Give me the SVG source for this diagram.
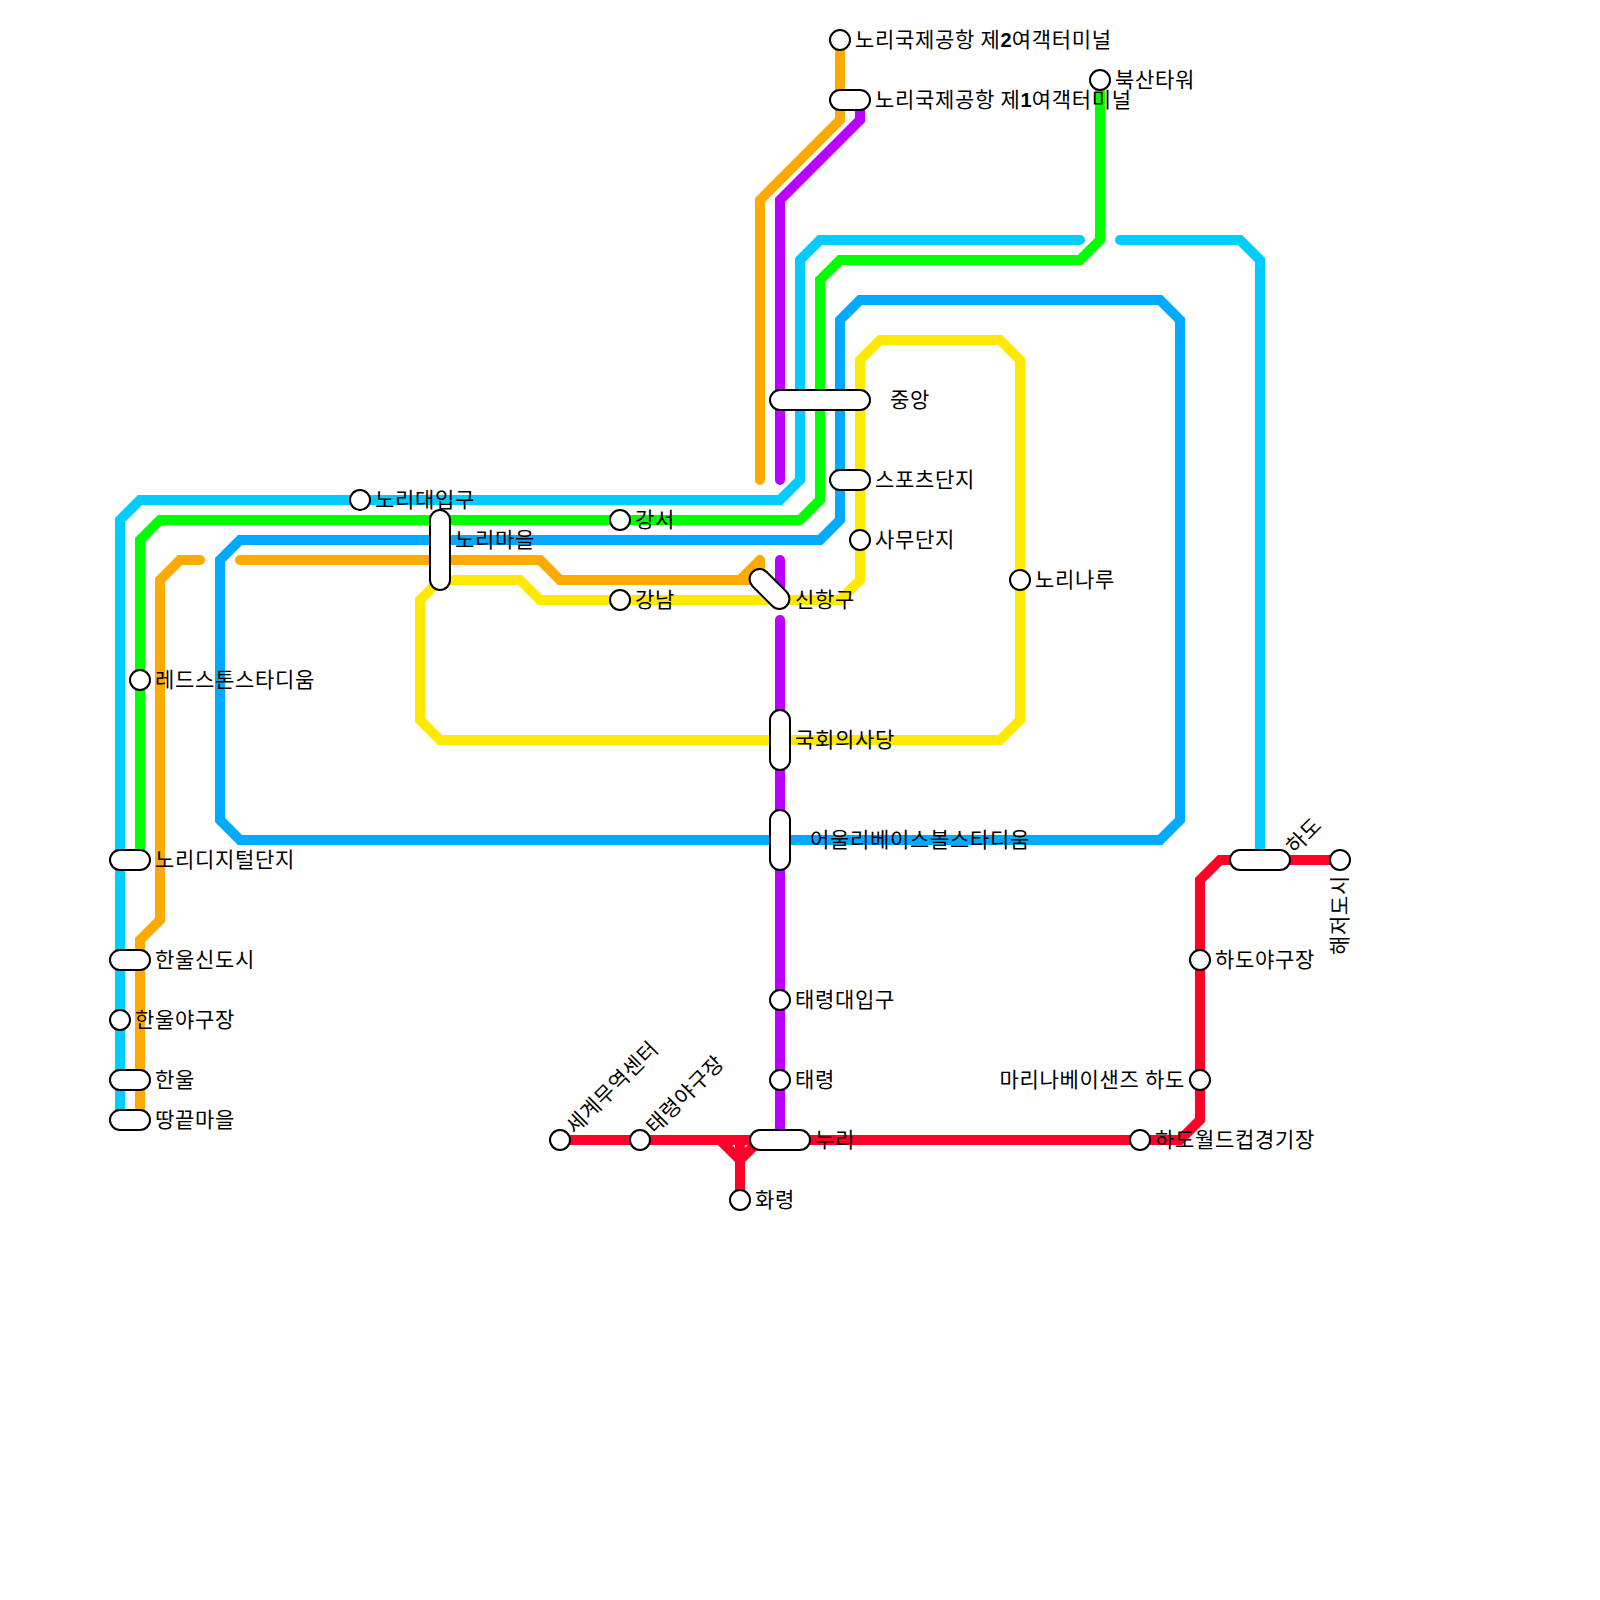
<svg xmlns="http://www.w3.org/2000/svg" width="1600" height="1600" viewBox="0 0 1600 1600">
<style>
.l{fill:none;stroke-width:10;stroke-linecap:round;stroke-linejoin:miter}
.s{fill:#fff;stroke:#000;stroke-width:2}
text{font-family:"Liberation Sans","Noto Sans CJK KR",sans-serif;font-size:21px;letter-spacing:.68px;fill:#000;dominant-baseline:central}
.n{letter-spacing:0;font-size:20px}
.d{letter-spacing:0;font-size:20px;font-weight:bold}
</style>
<rect width="1600" height="1600" fill="#fff"/>
<g id="connectors">
<path class="l" style="stroke:#ffe900" d="M540 600L520 580H440L420 600V720L440 740H1000L1020 720V360L1000 340H880L860 360V580L840 600Z"/>
<path class="l" style="stroke:#00aaff" d="M860 300H1160L1180 320V820L1160 840H240L220 820V560L240 540H820L840 520V320Z"/>
<path class="l" style="stroke:#00ccff" d="M1080 240H820L800 260V480L780 500H140L120 520V1120"/>
<path class="l" style="stroke:#00ccff" d="M1120 240H1240L1260 260V860"/>
<path class="l" style="stroke:#00ff00" d="M1100 80V240L1080 260H840L820 280V500L800 520H160L140 540V860"/>
<path class="l" style="stroke:#ffaa00" d="M840 40V120L760 200V480"/>
<path class="l" style="stroke:#ffaa00" d="M240 560H540L560 580H760M740 580L760 560M760 560V580"/>
<path class="l" style="stroke:#ffaa00" d="M200 560H180L160 580V920L140 940V1120"/>
<path class="l" style="stroke:#bb00ff" d="M860 100V120L780 200V480"/>
<path class="l" style="stroke:#bb00ff" d="M780 560V590"/>
<path class="l" style="stroke:#bb00ff" d="M780 620V1140"/>
<path class="l" style="stroke:#ff0029" d="M560 1140H1180L1200 1120V880L1220 860H1340"/>
<path class="l" style="stroke:#ff0029;stroke-linecap:butt" d="M720 1140L740 1160L760 1140M740 1140V1200"/>
</g>
<g id="n1"><circle class="s" cx="840" cy="40" r="10"/><text x="855" y="40" dy="-0.5">노리국제공항<tspan class="n"> </tspan>제<tspan class="d">2</tspan>여객터미널</text></g>
<g id="n2"><rect class="s" x="830" y="90" width="40" height="20" rx="10"/><text x="875" y="100" dy="-0.5">노리국제공항<tspan class="n"> </tspan>제<tspan class="d">1</tspan>여객터미널</text></g>
<g id="n3"><circle class="s" cx="1100" cy="80" r="10"/><text x="1115" y="80" dy="-0.5">북산타워</text></g>
<g id="n4"><rect class="s" x="770" y="390" width="100" height="20" rx="10"/><text x="890" y="400" dy="-0.5">중앙</text></g>
<g id="n5"><rect class="s" x="830" y="470" width="40" height="20" rx="10"/><text x="875" y="480" dy="-0.5">스포츠단지</text></g>
<g id="n6"><circle class="s" cx="860" cy="540" r="10"/><text x="875" y="540" dy="-0.5">사무단지</text></g>
<g id="n7"><circle class="s" cx="1020" cy="580" r="10"/><text x="1035" y="580" dy="-0.5">노리나루</text></g>
<g id="n8"><rect class="s" x="745.5" y="579" width="48" height="20" rx="10" transform="rotate(45 769.5 589)"/><text x="795" y="600" dy="-0.5">신항구</text></g>
<g id="n9"><rect class="s" x="770" y="710" width="20" height="60" rx="10"/><text x="795" y="740" dy="-0.5">국회의사당</text></g>
<g id="n10"><rect class="s" x="770" y="810" width="20" height="60" rx="10"/><text x="810" y="840" dy="-0.5">어울리베이스볼스타디움</text></g>
<g id="n11"><circle class="s" cx="780" cy="1000" r="10"/><text x="795" y="1000" dy="-0.5">태령대입구</text></g>
<g id="n12"><circle class="s" cx="780" cy="1080" r="10"/><text x="795" y="1080" dy="-0.5">태령</text></g>
<g id="n13"><rect class="s" x="750" y="1130" width="60" height="20" rx="10"/><text x="815" y="1140" dy="-0.5">누리</text></g>
<g id="n14"><circle class="s" cx="740" cy="1200" r="10"/><text x="755" y="1200" dy="-0.5">화령</text></g>
<g id="n15"><circle class="s" cx="560" cy="1140" r="10"/><text x="570" y="1130" dy="-0.5" transform="rotate(-45 570 1130)">세계무역센터</text></g>
<g id="n16"><circle class="s" cx="640" cy="1140" r="10"/><text x="650" y="1130" dy="-0.5" transform="rotate(-45 650 1130)">태령야구장</text></g>
<g id="n17"><circle class="s" cx="1140" cy="1140" r="10"/><text x="1155" y="1140" dy="-0.5">하도월드컵경기장</text></g>
<g id="n18"><circle class="s" cx="1200" cy="1080" r="10"/><text x="1185" y="1080" dy="-0.5" text-anchor="end">마리나베이샌즈<tspan class="n"> </tspan>하도</text></g>
<g id="n19"><circle class="s" cx="1200" cy="960" r="10"/><text x="1215" y="960" dy="-0.5">하도야구장</text></g>
<g id="n20"><rect class="s" x="1230" y="850" width="60" height="20" rx="10"/><text x="1290" y="850" dy="-0.5" transform="rotate(-45 1290 850)">하도</text></g>
<g id="n21"><circle class="s" cx="1340" cy="860" r="10"/><text x="1340" y="875" dy="-0.5" text-anchor="end" transform="rotate(-90 1340 875)">해저도시</text></g>
<g id="n22"><circle class="s" cx="620" cy="520" r="10"/><text x="635" y="520" dy="-0.5">강서</text></g>
<g id="n23"><circle class="s" cx="620" cy="600" r="10"/><text x="635" y="600" dy="-0.5">강남</text></g>
<g id="n24"><rect class="s" x="430" y="510" width="20" height="80" rx="10"/><text x="455" y="540" dy="-0.5">노리마을</text></g>
<g id="n25"><circle class="s" cx="360" cy="500" r="10"/><text x="375" y="500" dy="-0.5">노리대입구</text></g>
<g id="n26"><circle class="s" cx="140" cy="680" r="10"/><text x="155" y="680" dy="-0.5">레드스톤스타디움</text></g>
<g id="n27"><rect class="s" x="110" y="850" width="40" height="20" rx="10"/><text x="155" y="860" dy="-0.5">노리디지털단지</text></g>
<g id="n28"><rect class="s" x="110" y="950" width="40" height="20" rx="10"/><text x="155" y="960" dy="-0.5">한울신도시</text></g>
<g id="n29"><circle class="s" cx="120" cy="1020" r="10"/><text x="135" y="1020" dy="-0.5">한울야구장</text></g>
<g id="n30"><rect class="s" x="110" y="1070" width="40" height="20" rx="10"/><text x="155" y="1080" dy="-0.5">한울</text></g>
<g id="n31"><rect class="s" x="110" y="1110" width="40" height="20" rx="10"/><text x="155" y="1120" dy="-0.5">땅끝마을</text></g>
</svg>
